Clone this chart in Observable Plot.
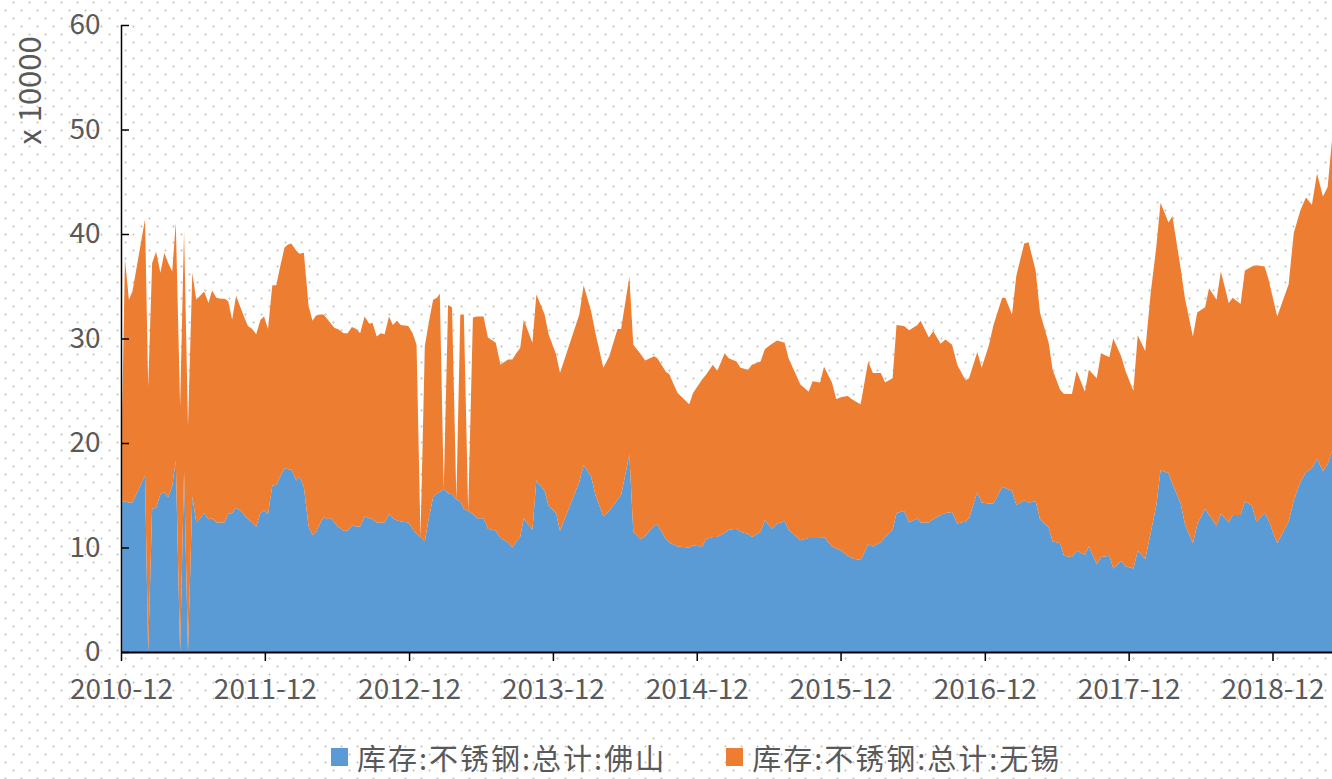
<!DOCTYPE html>
<html><head><meta charset="utf-8">
<script src="https://cdn.jsdelivr.net/npm/d3@7"></script>
<script src="https://cdn.jsdelivr.net/npm/@observablehq/plot@0.6"></script>
<style>
html,body{margin:0;padding:0;}
body{width:1332px;height:779px;overflow:hidden;position:relative;background-color:#fff;
background-image:radial-gradient(circle at 5.5px 10.5px,#cfcfcf 0.9px,transparent 1.4px),radial-gradient(circle at 13.5px 2.5px,#cfcfcf 0.9px,transparent 1.4px);
background-size:16px 16px;font-family:"Noto Sans CJK SC",sans-serif;}
#chart{position:absolute;left:0;top:0;}
#legend{position:absolute;left:331px;top:736px;display:flex;align-items:center;font-size:29px;letter-spacing:2px;color:#595959;white-space:nowrap;}
#legend .item{display:flex;align-items:center;}
#legend .sw{width:17px;height:18px;display:inline-block;margin-right:9px;}
</style></head><body>
<div id="chart"></div><div id="legend"></div>
<script>
const seriesNames = ["库存:不锈钢:总计:佛山", "库存:不锈钢:总计:无锡"];
const seriesColors = ["#5B9BD5", "#ED7D31"];
const yTicks = [0, 10, 20, 30, 40, 50, 60];
const xTickLabels = ["2010-12","2011-12","2012-12","2013-12","2014-12","2015-12","2016-12","2017-12","2018-12"];
const xDomain = ["2010-12-01", "2019-05-01"];
const yLabel = "x 10000";

const dates = [
"2010-12-04","2010-12-11","2010-12-21","2010-12-30","2011-01-31","2011-02-08","2011-02-18","2011-02-28","2011-03-11","2011-03-21",
"2011-03-31","2011-04-10","2011-04-19","2011-04-30","2011-05-10","2011-05-20","2011-05-31","2011-06-10","2011-06-20","2011-06-30",
"2011-07-11","2011-07-20","2011-07-31","2011-08-11","2011-08-21","2011-08-30","2011-09-09","2011-09-19","2011-10-01","2011-10-10",
"2011-10-19","2011-10-30","2011-11-09","2011-11-20","2011-11-29","2011-12-09","2011-12-20","2011-12-30","2012-01-09","2012-01-20",
"2012-01-29","2012-02-06","2012-02-19","2012-02-27","2012-03-09","2012-03-21","2012-03-31","2012-04-09","2012-04-18","2012-04-28",
"2012-05-09","2012-05-17","2012-05-26","2012-06-03","2012-06-18","2012-06-28","2012-07-09","2012-07-20","2012-07-30","2012-08-10",
"2012-08-22","2012-08-30","2012-09-10","2012-09-20","2012-09-30","2012-10-11","2012-10-21","2012-10-31","2012-11-10","2012-11-29",
"2012-12-10","2012-12-20","2012-12-30","2013-01-10","2013-01-20","2013-01-31","2013-02-10","2013-02-17","2013-02-27","2013-03-10",
"2013-03-20","2013-03-31","2013-04-10","2013-04-19","2013-04-30","2013-05-12","2013-05-22","2013-06-08","2013-06-19","2013-07-09",
"2013-07-21","2013-08-09","2013-08-20","2013-08-30","2013-09-09","2013-09-18","2013-10-10","2013-10-20","2013-11-10","2013-11-20",
"2013-12-09","2013-12-19","2014-02-06","2014-02-17","2014-03-08","2014-03-19","2014-04-08","2014-04-23","2014-05-14","2014-05-23",
"2014-06-13","2014-06-23","2014-07-12","2014-07-23","2014-08-15","2014-08-23","2014-09-14","2014-09-22","2014-10-13","2014-11-12",
"2014-11-22","2014-12-15","2014-12-24","2015-01-11","2015-01-22","2015-02-10","2015-02-20","2015-03-12","2015-03-22","2015-04-10",
"2015-04-20","2015-05-12","2015-05-23","2015-06-10","2015-06-23","2015-07-12","2015-07-22","2015-08-21","2015-09-11","2015-09-21",
"2015-10-10","2015-10-20","2015-11-09","2015-11-20","2015-12-04","2015-12-19","2015-12-29","2016-01-07","2016-01-21","2016-02-09",
"2016-02-21","2016-03-12","2016-03-23","2016-04-11","2016-04-21","2016-05-10","2016-05-23","2016-06-13","2016-06-21","2016-07-12",
"2016-07-23","2016-08-11","2016-08-23","2016-09-09","2016-09-22","2016-10-13","2016-10-22","2016-11-12","2016-11-23","2016-12-11",
"2016-12-23","2017-01-14","2017-01-22","2017-02-08","2017-02-19","2017-03-11","2017-03-22","2017-04-09","2017-04-20","2017-05-12",
"2017-05-22","2017-06-10","2017-06-20","2017-07-10","2017-07-22","2017-08-12","2017-08-22","2017-09-11","2017-09-22","2017-10-13",
"2017-10-23","2017-11-12","2017-11-23","2017-12-13","2017-12-24","2018-01-12","2018-01-26","2018-02-09","2018-02-20","2018-03-12",
"2018-03-22","2018-04-12","2018-04-23","2018-05-13","2018-05-24","2018-06-13","2018-06-23","2018-07-12","2018-07-23","2018-08-12",
"2018-08-22","2018-09-11","2018-09-22","2018-10-10","2018-10-21","2018-11-11","2018-11-20","2018-12-13","2019-01-11","2019-01-24",
"2019-02-10","2019-02-24","2019-03-11","2019-03-24","2019-04-08","2019-04-20","2019-05-01"
];

// 佛山 (x 10000)
const foshan = [
14.4,14.4,14.3,14.3,16.9,0,13.7,13.8,15.1,15.3,
14.8,15.9,18.3,0,17.3,0,14.9,12.4,12.8,13.3,
12.7,12.8,12.4,12.4,12.4,13.2,13.3,13.8,13.5,13.1,
12.7,12.4,12.0,13.3,13.6,13.2,15.9,16.0,16.8,17.6,
17.5,17.5,16.4,16.8,15.8,12.0,11.2,11.5,12.2,12.9,
12.7,12.8,12.4,12.0,11.6,11.6,12.1,12.0,12.0,13.0,
12.8,12.7,12.4,12.4,12.4,13.2,12.8,12.6,12.5,12.4,
11.8,11.3,11.0,10.6,12.8,14.8,15.2,15.3,15.6,15.2,
15.1,14.6,14.4,13.7,13.5,13.2,12.8,12.8,11.8,11.6,
10.9,10.5,10.0,10.6,11.0,12.8,11.7,16.4,15.4,14.0,
13.3,11.6,16.3,17.9,16.8,15.0,13.0,13.5,14.6,15.0,
18.9,11.5,10.8,11.1,12.1,12.2,10.8,10.5,10.1,10.0,
10.2,10.1,10.8,11.0,11.0,11.4,11.7,11.8,11.5,11.3,
11.0,11.5,12.6,11.8,12.3,12.5,11.7,10.7,10.9,10.9,
10.9,11.0,10.1,9.9,9.7,9.2,9.0,8.9,8.8,10.3,
10.1,10.5,11.0,11.7,13.3,13.5,12.4,12.8,12.4,12.4,
12.7,13.1,13.3,13.4,12.3,12.5,12.8,15.3,14.3,14.2,
14.2,15.8,15.7,15.4,14.1,14.5,14.3,14.4,12.7,11.9,
10.6,10.4,9.2,9.1,9.7,9.3,10.1,8.4,9.1,9.2,
8.0,8.7,8.2,8.0,9.7,8.9,11.4,14.0,17.4,17.1,
16.1,14.2,12.2,10.4,12.2,13.7,13.1,12.1,13.2,12.4,
13.1,13.1,14.4,14.0,12.5,13.3,12.7,10.4,12.5,14.5,
16.3,17.2,17.6,18.5,17.3,18.0,19.2
];

// 无锡 (x 10000)
const wuxi = [
8.5,23.2,19.4,20.2,24.5,25.3,23.5,24.5,21.2,22.9,
22.4,20.5,22.8,23.5,23.0,21.6,21.4,21.3,21.3,21.2,
20.7,21.8,21.5,21.4,21.4,20.4,18.5,20.3,19.4,18.9,
18.5,18.5,18.4,18.5,18.5,17.7,19.2,19.1,20.1,21.1,
21.5,21.6,22.0,21.3,22.4,21.1,20.5,20.7,20.1,19.4,
19.1,18.6,18.6,18.9,18.9,18.9,19.0,18.9,18.5,19.1,
18.6,18.8,17.8,18.1,18.0,18.9,18.5,19.1,18.8,18.8,
18.7,18.1,0,18.7,18.7,18.9,18.7,19.0,0,18.0,
17.9,0,17.9,18.6,0,18.8,19.3,19.3,18.3,18.0,
16.6,17.5,18.0,18.0,18.1,19.0,17.9,17.8,16.9,16.4,
15.2,15.1,16.0,17.2,15.8,15.5,14.2,14.8,16.3,15.9,
17.0,17.9,17.7,16.8,16.2,15.9,16.0,16.1,14.7,13.7,
14.6,16.0,15.7,16.5,15.9,17.2,16.4,16.0,15.7,15.7,
16.5,16.3,16.4,17.7,17.5,17.1,16.4,14.9,14.0,15.0,
14.9,16.3,15.7,14.3,14.7,15.3,15.2,15.1,14.9,17.5,
16.6,16.2,14.8,14.5,18.0,17.7,18.4,18.5,19.3,17.7,
18.0,16.4,16.6,16.0,15.2,13.5,13.4,13.4,12.9,15.1,
17.1,18.1,18.2,16.9,21.9,24.6,24.9,22.1,19.8,17.7,
16.4,14.7,15.5,15.6,17.2,15.6,16.9,17.8,19.5,19.0,
22.0,19.6,18.7,17.0,20.6,19.9,23.0,24.7,25.6,24.0,
25.6,22.5,21.6,19.8,20.3,19.3,21.7,21.6,23.2,21.0,
20.8,20.2,22.1,22.9,24.5,23.6,23.1,21.7,22.7,25.6,
26.0,26.3,25.2,27.3,26.3,26.5,29.8
];

const valuesBySeries = [foshan, wuxi];
const rows = dates.flatMap((d, i) => seriesNames.map((s, k) => ({
  date: new Date(d), series: s, value: valuesBySeries[k][i]
})));

const xTicks = xTickLabels.map(s => new Date(s + "-01"));
const x0 = new Date(xDomain[0]);
const textColor = "#595959";
const fontFam = "'Noto Sans CJK SC', sans-serif";

const chart = Plot.plot({
  width: 1332,
  height: 730,
  marginLeft: 121,
  marginRight: 0,
  marginTop: 25,
  marginBottom: 78,
  style: {background: "transparent", fontFamily: fontFam, color: textColor, overflow: "visible"},
  x: {type: "utc", domain: xDomain.map(d => new Date(d))},
  y: {domain: [0, 60]},
  color: {domain: seriesNames, range: seriesColors},
  marks: [
    Plot.areaY(rows, {x: "date", y: "value", fill: "series", order: seriesNames, curve: "linear"}),
    Plot.ruleY(yTicks, {stroke: "#000", strokeWidth: 1.5, insetRight: 1203}),
    Plot.ruleX([x0], {stroke: "#000", strokeWidth: 1.5}),
    Plot.ruleY([0], {stroke: "#000", strokeWidth: 2}),
    Plot.axisY({ticks: yTicks, tickSize: 0, tickPadding: 21, fontSize: 28, label: null, fill: textColor}),
    Plot.axisX({ticks: xTicks, tickSize: 9, tickPadding: 18, fontSize: 28, label: null,
      tickFormat: d3.utcFormat("%Y-%m"), stroke: "#000", strokeWidth: 1.5, fill: textColor}),
    Plot.text([yLabel], {frameAnchor: "top-left", rotate: -90, dx: -103, dy: 65, fontSize: 31,
      fill: textColor, textAnchor: "middle"})
  ]
});
document.getElementById("chart").appendChild(chart);

const legend = document.getElementById("legend");
seriesNames.forEach((name, i) => {
  const item = document.createElement("span");
  item.className = "item";
  if (i > 0) item.style.marginLeft = "60px";
  const sw = document.createElement("span");
  sw.className = "sw";
  sw.style.background = seriesColors[i];
  const label = document.createElement("span");
  label.textContent = name;
  item.appendChild(sw);
  item.appendChild(label);
  legend.appendChild(item);
});
</script>
</body></html>
